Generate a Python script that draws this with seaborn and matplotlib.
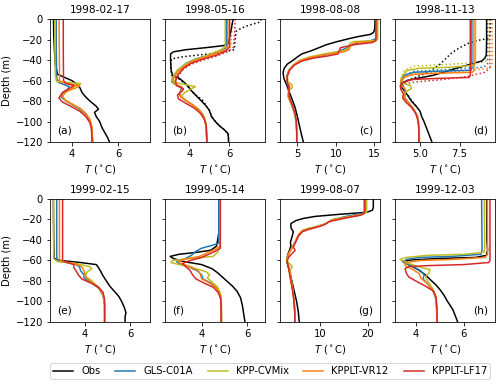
import matplotlib
matplotlib.use("Agg")
import matplotlib.pyplot as plt
import seaborn as sns

# ---------------- data: (depth m, temperature degC) ----------------
# panel (a) 1998-02-17
a_obs = [(0,3.22),(-15,3.23),(-30,3.26),(-45,3.3),(-54,3.4),(-57,3.7),(-60,4.0),(-63,4.2),(-67,4.35),(-72,4.45),(-76,4.6),(-80,4.78),(-85,5.05),(-88,5.15),(-91,4.98),(-95,5.05),(-100,5.2),(-106,5.3),(-112,5.45),(-116,5.55),(-120,5.62)]
a_gls = [(0,3.34),(-30,3.34),(-58,3.36),(-62,3.45),(-66,3.9),(-68,3.85),(-72,3.6),(-76,3.55),(-80,3.75),(-84,4.05),(-88,4.35),(-93,4.6),(-99,4.78),(-106,4.86),(-120,4.9)]
a_kpp = [(0,3.27),(-30,3.28),(-55,3.3),(-61,3.35),(-63,4.4),(-65,4.2),(-70,3.8),(-75,3.62),(-79,3.7),(-83,4.0),(-87,4.35),(-92,4.6),(-98,4.78),(-105,4.86),(-120,4.9)]
a_vr12 = [(0,3.46),(-30,3.47),(-60,3.48),(-62,3.6),(-65,4.35),(-67,4.2),(-71,3.75),(-75,3.58),(-79,3.72),(-83,4.02),(-87,4.35),(-92,4.6),(-98,4.78),(-105,4.86),(-120,4.9)]
a_lf17 = [(0,3.64),(-30,3.64),(-60,3.65),(-63,3.75),(-65,4.1),(-67,3.95),(-72,3.6),(-77,3.45),(-81,3.6),(-85,3.95),(-90,4.35),(-95,4.6),(-101,4.78),(-108,4.85),(-120,4.87)]

# panel (b) 1998-05-16
b_obs = [(0,6.2),(-10,6.1),(-20,6.0),(-24,5.95),(-26,5.7),(-28,4.8),(-30,3.8),(-32,3.2),(-34,3.05),(-40,3.05),(-50,3.08),(-55,3.15),(-58,3.5),(-62,3.75),(-66,3.95),(-70,4.1),(-74,4.3),(-79,4.55),(-84,4.8),(-89,5.0),(-95,5.1),(-100,5.3),(-104,5.5),(-108,5.75),(-112,5.95),(-120,5.97)]
b_obs_dot = [(0,7.6),(-3,7.55),(-6,7.0),(-9,6.6),(-12,6.35),(-20,6.3),(-30,6.25),(-33,5.5),(-35,4.5),(-37,3.6),(-39,3.1),(-45,3.05),(-55,3.1),(-58,3.45),(-62,3.7),(-66,3.92),(-70,4.1),(-74,4.3),(-79,4.65),(-84,4.82),(-89,5.0),(-95,5.12),(-100,5.3),(-104,5.5),(-108,5.75),(-112,5.95),(-120,5.97)]
b_gls = [(0,5.87),(-25,5.88),(-28,5.85),(-31,5.5),(-35,5.0),(-39,4.3),(-43,3.85),(-50,3.4),(-57,3.15),(-61,3.1),(-64,3.3),(-67,3.6),(-70,3.55),(-74,3.5),(-78,3.7),(-83,4.1),(-88,4.45),(-94,4.7),(-102,4.83),(-120,4.88)]
b_kpp = [(0,5.8),(-20,5.8),(-27,5.8),(-30,5.6),(-33,5.2),(-37,4.7),(-40,4.2),(-44,3.8),(-50,3.4),(-56,3.2),(-60,3.1),(-62,3.3),(-66,4.3),(-68,4.1),(-72,3.75),(-75,3.6),(-79,3.8),(-84,4.2),(-89,4.5),(-95,4.7),(-102,4.82),(-120,4.87)]
b_vr12 = [(0,5.93),(-26,5.93),(-30,5.8),(-33,5.4),(-37,4.8),(-41,4.2),(-46,3.75),(-52,3.4),(-58,3.2),(-63,3.2),(-66,3.6),(-68,3.65),(-72,3.5),(-76,3.55),(-80,3.85),(-85,4.25),(-90,4.55),(-96,4.75),(-103,4.84),(-120,4.88)]
b_lf17 = [(0,6.02),(-27,6.02),(-31,5.85),(-35,5.4),(-39,4.7),(-43,4.1),(-48,3.7),(-54,3.45),(-60,3.3),(-65,3.35),(-68,3.7),(-70,3.65),(-74,3.4),(-78,3.45),(-82,3.8),(-87,4.25),(-92,4.55),(-98,4.75),(-105,4.85),(-120,4.88)]
b_lf17_dot = [(0,6.3),(-10,6.28),(-20,6.25),(-28,6.2),(-32,5.9),(-36,5.4),(-40,4.7),(-44,4.1),(-49,3.7),(-55,3.45),(-60,3.3)]
b_vr12_dot = [(0,6.15),(-10,6.12),(-20,6.1),(-27,6.08),(-31,5.8),(-35,5.3),(-39,4.7),(-43,4.1),(-48,3.7),(-54,3.4),(-60,3.25)]

# panel (c) 1998-08-08
c_obs = [(0,15.1),(-10,15.05),(-13,14.9),(-15,14.5),(-17,13.0),(-19,11.8),(-22,10.2),(-25,8.8),(-28,7.8),(-31,6.8),(-34,5.6),(-37,5.0),(-40,4.5),(-44,3.7),(-48,3.3),(-52,3.15),(-58,3.25),(-64,3.6),(-70,3.9),(-78,4.3),(-86,4.7),(-95,5.0),(-105,5.3),(-113,5.55),(-120,5.78)]
c_gls = [(0,15.3),(-19,15.3),(-21,14.6),(-23,13.0),(-26,11.9),(-29,11.2),(-32,10.2),(-35,8.6),(-38,6.6),(-41,5.3),(-45,4.5),(-50,3.9),(-56,3.6),(-62,3.65),(-66,3.85),(-70,3.85),(-76,3.9),(-84,4.3),(-92,4.65),(-100,4.85),(-110,4.92),(-120,4.93)]
c_kpp = [(0,15.45),(-19,15.45),(-21,15.2),(-22,12.3),(-24,11.8),(-29,11.6),(-31,11.0),(-34,8.5),(-37,6.6),(-40,5.4),(-44,4.6),(-49,4.0),(-55,3.7),(-61,3.75),(-64,4.3),(-67,4.35),(-70,3.9),(-75,3.75),(-82,4.15),(-90,4.55),(-98,4.8),(-108,4.92),(-120,4.95)]
c_vr12 = [(0,15.35),(-20,15.35),(-22,15.0),(-23,12.6),(-25,12.0),(-30,11.7),(-32,11.0),(-35,8.4),(-38,6.4),(-41,5.3),(-45,4.5),(-50,3.95),(-56,3.65),(-62,3.7),(-65,4.0),(-68,4.0),(-72,3.85),(-78,3.95),(-85,4.35),(-93,4.7),(-101,4.87),(-110,4.93),(-120,4.94)]
c_lf17 = [(0,15.2),(-21,15.2),(-23,14.7),(-25,12.4),(-28,10.6),(-34,10.3),(-36,9.0),(-38,7.2),(-41,5.6),(-45,4.6),(-50,4.0),(-56,3.7),(-62,3.7),(-66,3.9),(-70,3.9),(-76,3.95),(-84,4.35),(-92,4.7),(-100,4.87),(-110,4.92),(-120,4.92)]

# panel (d) 1998-11-13
d_obs = [(0,9.2),(-20,9.2),(-35,9.18),(-38,9.1),(-41,8.9),(-44,8.2),(-48,7.3),(-52,6.5),(-55,5.8),(-58,4.8),(-60,4.2),(-62,3.9),(-66,3.85),(-70,4.0),(-75,4.25),(-80,4.45),(-85,4.75),(-90,5.0),(-95,5.1),(-100,5.25),(-106,5.4),(-112,5.55),(-120,5.75)]
d_obs_dot = [(0,9.45),(-15,9.43),(-19,9.3),(-21,8.6),(-24,8.0),(-28,7.5),(-33,7.0),(-39,6.6),(-45,6.2),(-50,5.7),(-54,5.2),(-57,4.7),(-60,4.2),(-63,3.95),(-67,3.9),(-72,4.1),(-78,4.4),(-85,4.75)]
d_gls = [(0,8.27),(-48,8.27),(-50,8.2),(-51,6.0),(-52,4.6),(-55,4.0),(-60,3.8),(-64,3.8),(-68,4.0),(-72,4.1),(-76,4.0),(-81,4.25),(-87,4.55),(-94,4.82),(-104,4.93),(-120,4.95)]
d_kpp = [(0,8.5),(-40,8.5),(-45,8.45),(-47,7.0),(-48,5.0),(-50,4.2),(-54,3.95),(-58,3.8),(-62,3.8),(-65,4.4),(-68,4.45),(-72,4.0),(-77,3.95),(-82,4.3),(-88,4.6),(-95,4.85),(-105,4.95),(-120,4.97)]
d_vr12 = [(0,8.4),(-50,8.4),(-52,8.3),(-53,6.0),(-54,4.5),(-57,4.0),(-61,3.8),(-65,3.85),(-69,4.1),(-73,4.05),(-78,4.05),(-83,4.35),(-89,4.65),(-96,4.85),(-106,4.94),(-120,4.95)]
d_lf17 = [(0,8.17),(-55,8.17),(-57,8.1),(-58,6.0),(-59,4.5),(-62,3.9),(-65,3.75),(-69,3.8),(-73,3.95),(-77,3.9),(-81,4.1),(-86,4.45),(-92,4.72),(-99,4.87),(-108,4.92),(-120,4.93)]
d_gls_dot = [(0,9.25),(-44,9.25),(-47,9.0),(-49,7.0),(-51,4.6),(-55,4.0),(-60,3.8),(-64,3.8),(-68,4.0),(-72,4.1)]
d_kpp_dot = [(0,9.35),(-40,9.35),(-42,9.0),(-44,7.0),(-46,4.6),(-50,4.0),(-56,3.85),(-62,3.85),(-65,4.4)]
d_vr12_dot = [(0,9.55),(-45,9.55),(-48,9.3),(-51,7.5),(-53,5.0),(-56,4.1),(-60,3.85),(-65,3.85),(-69,4.1)]
d_lf17_dot = [(0,9.4),(-48,9.4),(-52,9.1),(-56,8.0),(-59,6.5),(-61,5.0),(-63,4.0),(-66,3.8),(-70,3.85)]

# panel (e) 1999-02-15
e_obs = [(0,2.59),(-30,2.6),(-58,2.62),(-60,2.9),(-62,3.8),(-64,4.5),(-67,4.6),(-70,4.68),(-75,4.8),(-80,4.95),(-85,5.1),(-90,5.3),(-95,5.5),(-100,5.63),(-106,5.75),(-111,5.82),(-115,5.78),(-120,5.78)]
e_gls = [(0,2.74),(-59,2.74),(-61,2.9),(-63,3.5),(-66,3.75),(-70,3.8),(-74,3.95),(-77,3.95),(-82,4.3),(-87,4.6),(-94,4.8),(-103,4.87),(-120,4.88)]
e_kpp = [(0,2.6),(-58,2.6),(-61,2.75),(-63,3.6),(-66,4.2),(-68,4.3),(-71,4.1),(-75,4.0),(-80,4.3),(-86,4.6),(-93,4.8),(-102,4.87),(-120,4.88)]
e_vr12 = [(0,2.86),(-59,2.86),(-61,3.0),(-63,3.55),(-66,3.85),(-70,3.95),(-73,4.0),(-77,4.05),(-82,4.35),(-87,4.62),(-94,4.8),(-103,4.87),(-120,4.88)]
e_lf17 = [(0,3.0),(-60,3.0),(-62,3.2),(-64,3.5),(-67,3.5),(-70,3.6),(-74,3.7),(-78,3.85),(-82,4.25),(-86,4.6),(-91,4.8),(-98,4.87),(-120,4.86)]

# panel (f) 1999-05-14
f_obs = [(0,4.77),(-20,4.77),(-33,4.75),(-40,4.7),(-46,4.65),(-50,4.4),(-52,3.8),(-54,3.0),(-56,2.62),(-58,2.75),(-61,3.2),(-64,4.0),(-68,4.45),(-72,4.7),(-76,4.9),(-80,5.1),(-85,5.35),(-90,5.55),(-96,5.7),(-103,5.78),(-110,5.83),(-120,5.9)]
f_gls = [(0,4.75),(-43,4.75),(-45,4.5),(-48,4.0),(-51,3.75),(-55,3.55),(-58,3.3),(-61,2.9),(-63,3.0),(-66,3.4),(-70,3.8),(-74,4.0),(-78,4.05),(-82,4.4),(-87,4.68),(-93,4.82),(-100,4.86),(-120,4.87)]
f_kpp = [(0,4.8),(-45,4.8),(-48,4.78),(-52,4.7),(-56,4.5),(-58,3.5),(-60,2.7),(-62,2.65),(-64,3.0),(-67,3.6),(-71,4.2),(-74,4.35),(-77,4.25),(-81,4.45),(-86,4.7),(-92,4.82),(-100,4.86),(-120,4.87)]
f_vr12 = [(0,4.8),(-46,4.8),(-49,4.6),(-52,4.3),(-56,3.9),(-59,3.2),(-61,2.95),(-63,3.1),(-66,3.5),(-70,3.85),(-74,3.95),(-78,4.0),(-82,4.35),(-87,4.65),(-93,4.8),(-100,4.86),(-120,4.87)]
f_lf17 = [(0,4.82),(-48,4.82),(-51,4.6),(-54,4.3),(-57,4.0),(-60,3.5),(-63,3.15),(-66,3.3),(-70,3.5),(-74,3.6),(-78,3.75),(-82,4.1),(-86,4.5),(-91,4.72),(-97,4.83),(-105,4.85),(-120,4.85)]

# panel (g) 1999-08-07
g_obs = [(0,21.2),(-8,21.2),(-11,21.0),(-13,19.8),(-15,14.0),(-17,9.0),(-19,6.5),(-21,5.0),(-24,3.9),(-28,3.9),(-32,4.4),(-36,4.2),(-42,3.8),(-46,3.9),(-50,3.6),(-55,3.2),(-60,3.0),(-64,3.2),(-70,3.6),(-80,4.1),(-90,4.6),(-100,5.1),(-110,5.45),(-120,5.65)]
g_gls = [(0,19.6),(-12,19.6),(-14,19.0),(-17,15.5),(-20,12.8),(-24,11.2),(-27,9.3),(-29,7.5),(-32,6.2),(-37,5.3),(-44,4.6),(-50,3.8),(-56,3.2),(-60,3.0),(-64,3.3),(-68,3.55),(-76,3.8),(-86,4.2),(-98,4.55),(-110,4.7),(-120,4.75)]
g_kpp = [(0,19.8),(-13,19.8),(-15,19.0),(-17,16.5),(-20,12.6),(-23,11.6),(-25,10.7),(-28,8.2),(-30,6.5),(-34,5.6),(-40,5.0),(-46,4.4),(-52,3.6),(-57,3.1),(-60,3.0),(-63,3.6),(-66,4.2),(-69,3.8),(-76,3.85),(-86,4.25),(-98,4.55),(-110,4.7),(-120,4.75)]
g_vr12 = [(0,19.4),(-13,19.4),(-15,18.8),(-18,15.5),(-21,12.2),(-24,11.3),(-26,10.3),(-29,7.8),(-31,6.3),(-35,5.5),(-41,4.9),(-47,4.2),(-53,3.5),(-58,3.1),(-61,3.05),(-65,3.4),(-70,3.6),(-78,3.85),(-88,4.25),(-100,4.58),(-110,4.72),(-120,4.75)]
g_lf17 = [(0,19.3),(-14,19.3),(-16,18.4),(-19,15.0),(-22,12.0),(-25,11.0),(-27,9.8),(-30,7.4),(-32,6.3),(-36,5.5),(-42,4.9),(-47,4.4),(-50,4.8),(-53,4.2),(-57,3.4),(-61,3.1),(-65,3.3),(-70,3.5),(-78,3.8),(-88,4.2),(-100,4.55),(-110,4.7),(-120,4.72)]

# panel (h) 1999-12-03
h_obs = [(0,6.96),(-40,6.97),(-50,7.0),(-55,6.95),(-57,6.5),(-58,5.0),(-59.5,3.8),(-61,3.45),(-64,3.7),(-69,4.1),(-74,4.4),(-79,4.62),(-84,4.85),(-89,5.03),(-94,5.18),(-99,5.3),(-108,5.55),(-114,5.65),(-120,5.75)]
h_gls = [(0,6.75),(-50,6.77),(-54,6.72),(-56,5.5),(-57,4.2),(-59,3.6),(-62,3.5),(-66,3.9),(-70,4.2),(-74,4.35),(-78,4.3),(-83,4.5),(-89,4.7),(-96,4.82),(-106,4.87),(-120,4.88)]
h_kpp = [(0,6.86),(-48,6.88),(-52,6.85),(-54,6.0),(-55,4.5),(-57,3.6),(-59,3.35),(-62,3.6),(-66,4.1),(-69,4.6),(-72,4.55),(-76,4.4),(-82,4.55),(-88,4.72),(-96,4.83),(-106,4.87),(-120,4.88)]
h_vr12 = [(0,6.99),(-54,7.0),(-57,6.9),(-59,5.5),(-60,4.2),(-62,3.6),(-65,3.55),(-69,3.9),(-73,4.15),(-77,4.2),(-82,4.45),(-88,4.68),(-95,4.82),(-105,4.87),(-120,4.88)]
h_lf17 = [(0,7.1),(-60,7.1),(-62,7.05),(-64,6.0),(-65,4.5),(-66,3.7),(-68,3.55),(-72,3.6),(-76,3.7),(-80,4.0),(-85,4.4),(-90,4.75),(-96,4.85),(-105,4.88),(-120,4.89)]

series_names = ["Obs", "GLS-C01A", "KPP-CVMix", "KPPLT-VR12", "KPPLT-LF17"]
series_colors = ["black", "#1f77b4", "#bcbd22", "#ff7f0e", "#d62728"]
titles = ["1998-02-17", "1998-05-16", "1998-08-08", "1998-11-13",
          "1999-02-15", "1999-05-14", "1999-08-07", "1999-12-03"]
letters = ["(a)", "(b)", "(c)", "(d)", "(e)", "(f)", "(g)", "(h)"]
depth_ticks = [0, -20, -40, -60, -80, -100, -120]

# ---------------- assemble ----------------
solid = [
    [a_obs, a_gls, a_kpp, a_vr12, a_lf17],
    [b_obs, b_gls, b_kpp, b_vr12, b_lf17],
    [c_obs, c_gls, c_kpp, c_vr12, c_lf17],
    [d_obs, d_gls, d_kpp, d_vr12, d_lf17],
    [e_obs, e_gls, e_kpp, e_vr12, e_lf17],
    [f_obs, f_gls, f_kpp, f_vr12, f_lf17],
    [g_obs, g_gls, g_kpp, g_vr12, g_lf17],
    [h_obs, h_gls, h_kpp, h_vr12, h_lf17],
]
dotted = [
    [], [b_obs_dot, None, None, b_vr12_dot, b_lf17_dot], [],
    [d_obs_dot, d_gls_dot, d_kpp_dot, d_vr12_dot, d_lf17_dot],
    [], [], [], [],
]
xlims = [(3.07, 7.36), (2.77, 7.8), (2.75, 15.74), (3.42, 9.73),
         (2.44, 6.89), (2.39, 6.78), (1.61, 22.6), (3.13, 7.31)]
xticks = [[4, 6], [4, 6], [5, 10, 15], [5.0, 7.5],
          [4, 6], [4, 6], [10, 20], [4, 6]]
label_right = [False, False, True, True, False, False, True, True]

plt.rcParams["font.size"] = 10
DPI = 72
fig, axes = plt.subplots(2, 4, figsize=(500 / DPI, 384 / DPI), dpi=DPI, sharey=True)
fig.subplots_adjust(left=0.1, right=0.99, top=0.9505, bottom=0.1615,
                    wspace=0.15, hspace=0.463)
axes = axes.ravel()
LW = 1.5

for i, ax in enumerate(axes):
    for j in range(5):
        if dotted[i] and dotted[i][j] is not None:
            prof = dotted[i][j]
            z = [p[0] for p in prof]
            t = [p[1] for p in prof]
            sns.lineplot(x=t, y=z, sort=False, estimator=None, ax=ax,
                         color=series_colors[j], lw=LW, ls=":", legend=False)
    for j in range(5):
        prof = solid[i][j]
        z = [p[0] for p in prof]
        t = [p[1] for p in prof]
        sns.lineplot(x=t, y=z, sort=False, estimator=None, ax=ax,
                     color=series_colors[j], lw=LW, legend=False)
    ax.set_xlim(*xlims[i])
    ax.set_xticks(xticks[i])
    ax.set_ylim(-120, 0)
    ax.set_yticks(depth_ticks)
    ax.set_title(titles[i], fontsize=10.5)
    ax.set_xlabel(r"$T$ ($^\circ$C)")
    if i % 4 == 0:
        ax.set_ylabel("Depth (m)")
    else:
        ax.set_ylabel("")
    if label_right[i]:
        ax.text(0.93, 0.05, letters[i], transform=ax.transAxes,
                ha="right", va="bottom", fontsize=10.5)
    else:
        ax.text(0.07, 0.05, letters[i], transform=ax.transAxes,
                ha="left", va="bottom", fontsize=10.5)

handles = [plt.Line2D([], [], color=c, lw=LW) for c in series_colors]
fig.legend(handles, series_names, ncol=5, mode="expand", loc="lower left",
           bbox_to_anchor=(0.1, 0.013, 0.88, 0.05), borderaxespad=0,
           fontsize=10, handlelength=2.0, borderpad=0.3)

fig.savefig("out.png", dpi=DPI)
